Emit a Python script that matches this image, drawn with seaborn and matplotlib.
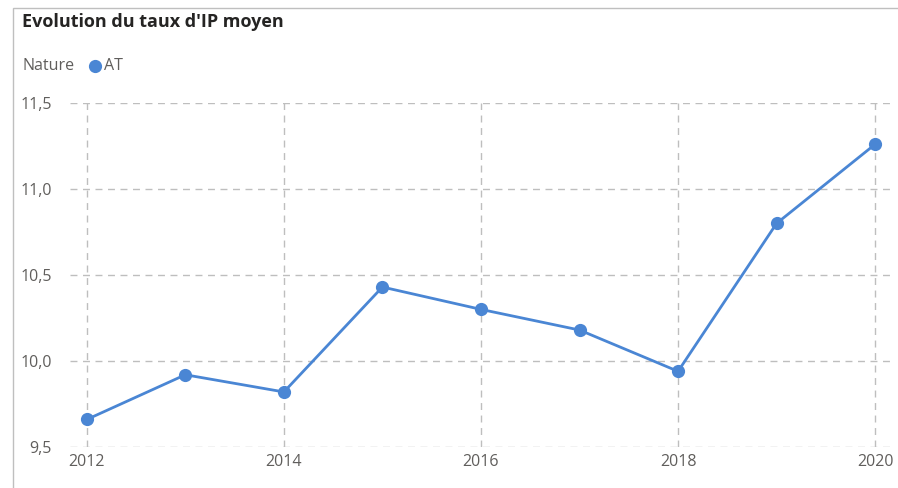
import matplotlib
matplotlib.use("Agg")
import matplotlib.pyplot as plt
import matplotlib.ticker as mticker
from matplotlib.patches import Rectangle
import pandas as pd
import seaborn as sns

# ── Données ──────────────────────────────────────────────────────────────────
annees = [2012, 2013, 2014, 2015, 2016, 2017, 2018, 2019, 2020]
taux_ip = [9.66, 9.92, 9.82, 10.43, 10.30, 10.18, 9.94, 10.80, 11.26]
nature = "AT"

titre = "Evolution du taux d'IP moyen"
x_ticks = [2012, 2014, 2016, 2018, 2020]
y_ticks = [9.5, 10.0, 10.5, 11.0, 11.5]

BLEU = "#4A86D4"
GRIS_GRILLE = "#BEBEBE"
GRIS_TEXTE = "#605E5C"

sns.set_theme(style="white")
plt.rcParams["font.family"] = ["Open Sans", "DejaVu Sans"]

df = pd.DataFrame({"annee": annees, "taux": taux_ip, "Nature": nature})

fig = plt.figure(figsize=(8.98, 4.88), dpi=100)
ax = fig.add_axes([0.078, 0.084, 0.913, 0.705])

sns.lineplot(data=df, x="annee", y="taux", color=BLEU, marker="o",
             markersize=9.5, markeredgewidth=0, linewidth=2, ax=ax, legend=False)

ax.set_xlim(2011.83, 2020.15)
ax.set_ylim(9.5, 11.5)
ax.set_xticks(x_ticks)
ax.set_yticks(y_ticks)
ax.yaxis.set_major_formatter(
    mticker.FuncFormatter(lambda v, _: f"{v:.1f}".replace(".", ",")))
ax.grid(True, color=GRIS_GRILLE, linestyle=(0, (5, 4)), linewidth=1)
ax.set_axisbelow(True)
for s in ax.spines.values():
    s.set_visible(False)
ax.set_xlabel("")
ax.set_ylabel("")
ax.tick_params(axis="both", length=0, labelsize=11.5, labelcolor=GRIS_TEXTE)
ax.tick_params(axis="x", pad=5)
ax.tick_params(axis="y", pad=13)

# cadre de la carte
fig.patches.append(Rectangle((13 / 898, -0.1), 1.2, 1 - 8 / 488 + 0.1,
                             transform=fig.transFigure, fill=False,
                             edgecolor="#BFBFBF", linewidth=1))

# titre et légende
fig.text(22 / 898, 1 - 22 / 488, titre, fontsize=13, fontweight="bold",
         color="#252423", va="center", ha="left")
fig.text(22 / 898, 1 - 66 / 488, "Nature", fontsize=11.5, color=GRIS_TEXTE,
         va="center", ha="left")
fig.lines.append(plt.Line2D([95 / 898], [1 - 66 / 488], marker="o",
                            markersize=9.5, color=BLEU, markeredgewidth=0,
                            transform=fig.transFigure))
fig.text(104 / 898, 1 - 66 / 488, nature, fontsize=11.5, color=GRIS_TEXTE,
         va="center", ha="left")

fig.savefig("out.png", dpi=100)
